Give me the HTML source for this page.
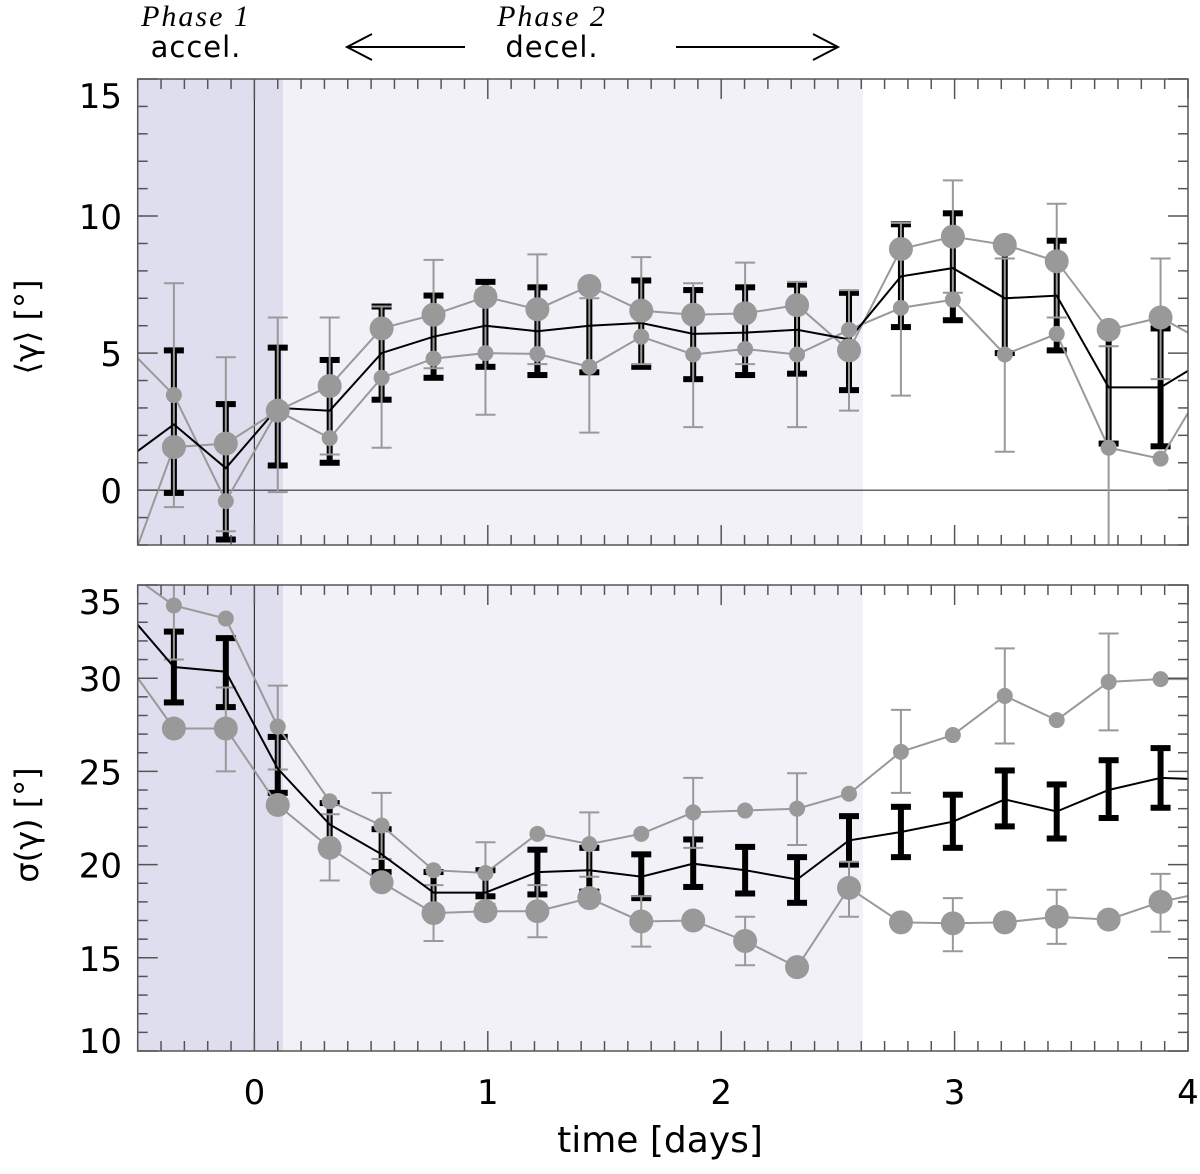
<!DOCTYPE html>
<html><head><meta charset="utf-8"><style>
html,body{margin:0;padding:0;background:#fff;}
svg{display:block;}
text{font-family:"DejaVu Sans","Liberation Sans",sans-serif;}
</style></head><body>
<svg id="chart" width="1200" height="1174" viewBox="0 0 1200 1174" xmlns="http://www.w3.org/2000/svg">
<text x="196" y="26" text-anchor="middle" font-style="italic" font-size="30" letter-spacing="2" style="font-family:'Liberation Serif',serif">Phase 1</text>
<text x="196" y="57" text-anchor="middle" font-size="29" letter-spacing="1">accel.</text>
<text x="552" y="26" text-anchor="middle" font-style="italic" font-size="30" letter-spacing="2" style="font-family:'Liberation Serif',serif">Phase 2</text>
<text x="552" y="57" text-anchor="middle" font-size="29" letter-spacing="1">decel.</text>
<g stroke="#000" stroke-width="2" fill="none"><line x1="347" y1="47" x2="465" y2="47"/><polyline points="372,34 347,47 372,60"/></g>
<g stroke="#000" stroke-width="2" fill="none"><line x1="676" y1="47" x2="838" y2="47"/><polyline points="813,34 838,47 813,60"/></g>
<text transform="translate(38,327) rotate(-90)" text-anchor="middle" font-size="32">⟨γ⟩  [°]</text>
<text transform="translate(38,825) rotate(-90)" text-anchor="middle" font-size="32">σ(γ) [°]</text>
<text x="660" y="1152" text-anchor="middle" font-size="36">time [days]</text>
</svg>
<script>
// ---- data ----
const timesStart = -0.5675;
const timeStep = 0.2225;
// top panel: mean gamma (index -1 .. 20)
const topBlack = [1.0,2.4,0.8,3.0,2.9,5.0,5.6,6.0,5.8,6.0,6.1,5.7,5.75,5.85,5.5,7.8,8.1,7.0,7.1,3.75,3.75,4.9];
const topBlackLo = [null,-0.1,-1.8,0.9,1.0,3.3,4.1,4.5,4.2,4.3,4.5,4.05,4.2,4.25,3.65,5.95,6.2,5.0,5.1,1.7,1.6,null];
const topBlackHi = [null,5.1,3.14,5.2,4.75,6.7,7.1,7.6,7.4,7.3,7.65,7.3,7.4,7.5,7.2,9.7,10.1,8.9,9.1,5.8,5.9,null];
const topSmall = [5.4,3.47,-0.4,2.9,1.9,4.1,4.8,5.0,4.97,4.5,5.6,4.95,5.15,4.95,5.85,6.65,6.95,4.95,5.7,1.55,1.15,4.3];
const topBig = [-3.6,1.57,1.7,2.9,3.8,5.9,6.4,7.05,6.6,7.45,6.55,6.4,6.45,6.75,5.1,8.8,9.25,8.95,8.35,5.85,6.3,5.25];
const topGrayLo = [null,-0.62,-1.5,-0.07,1.3,1.55,4.45,2.75,4.6,2.1,4.6,2.3,4.6,2.3,2.9,3.45,7.2,1.4,6.3,-2.2,4.05,null];
const topGrayHi = [null,7.55,4.85,6.3,6.3,6.7,8.4,7.3,8.6,7.0,8.5,7.55,8.3,7.6,7.3,9.75,11.3,8.45,10.45,5.25,8.45,null];
// bottom panel: sigma gamma
const botBlack = [33.85,30.6,30.35,25.15,22.15,20.55,18.5,18.5,19.6,19.7,19.35,20.05,19.7,19.2,21.3,21.75,22.3,23.5,22.85,24.0,24.65,24.55];
const botBlackLo = [null,28.7,28.45,23.85,21.1,19.6,17.6,18.3,18.4,18.55,18.2,18.8,18.45,17.95,20.0,20.4,20.9,22.05,21.4,22.5,23.05,null];
const botBlackHi = [null,32.5,32.15,26.85,23.3,21.9,19.6,19.7,20.8,20.9,20.55,21.35,20.95,20.4,22.6,23.1,23.75,25.05,24.3,25.6,26.25,null];
const botSmall = [35.9,33.9,33.2,27.4,23.4,22.1,19.7,19.55,21.65,21.1,21.65,22.8,22.9,23.0,23.8,26.05,26.95,29.05,27.75,29.8,29.95,29.95];
const botBig = [31.2,27.3,27.3,23.2,20.9,19.05,17.4,17.5,17.5,18.2,16.95,17.0,15.9,14.5,18.75,16.9,16.85,16.9,17.2,17.05,18.0,18.6];
const botGrayLo = [null,31.0,25.0,25.1,19.15,20.3,15.9,17.9,16.1,19.35,15.6,20.9,14.6,21.05,17.2,23.85,15.35,26.5,15.75,27.2,16.4,null];
const botGrayHi = [null,36.8,29.5,29.6,22.7,23.85,18.9,21.2,18.9,22.8,18.3,24.65,17.2,24.9,20.15,28.3,18.2,31.6,18.65,32.4,19.5,null];
const xTickLabels = ["0","1","2","3","4"];
const topTickLabels = ["0","5","10","15"];
const botTickLabels = ["10","15","20","25","30","35"];

const NS = "http://www.w3.org/2000/svg";
const svg = document.getElementById('chart');
const X0 = 137.7, X1 = 1188, T0 = -0.5, T1 = 4;
function xs(t){ return X0 + (t - T0) / (T1 - T0) * (X1 - X0); }
function mk(tag, attrs, parent){ const e = document.createElementNS(NS, tag); for (const k in attrs) e.setAttribute(k, attrs[k]); (parent||svg).appendChild(e); return e; }
const times = topBlack.map((_, i) => timesStart + i * timeStep);

function panel(cfg){
  const {top, bottom, vmin, vmax, name} = cfg;
  const ys = v => bottom - (v - vmin) / (vmax - vmin) * (bottom - top);
  const g = mk('g', {});
  
  
  const cid = 'clip-' + name;
  const cp = mk('clipPath', {id: cid}, g);
  mk('rect', {x: X0, y: top, width: X1 - X0, height: bottom - top}, cp);
  const p1 = mk('rect', {x: X0, y: top, width: xs(0.123) - X0, height: bottom - top, fill: '#dfdeee'}, g);
  
  
  const p2 = mk('rect', {x: xs(0.123), y: top, width: xs(2.607) - xs(0.123), height: bottom - top, fill: '#f2f1f8'}, g);
  
  
  mk('line', {x1: xs(0), x2: xs(0), y1: top, y2: bottom, stroke: '#333', 'stroke-width': 1.2}, g);
  if (cfg.zero) mk('line', {x1: X0, x2: X1, y1: ys(0), y2: ys(0), stroke: '#333', 'stroke-width': 1.2}, g);
  const d = mk('g', {'clip-path': 'url(#' + cid + ')'}, g);
  times.forEach((t, i) => {
    if (cfg.blo[i] == null) return;
    const x = xs(t), y1 = ys(cfg.bhi[i]), y2 = ys(cfg.blo[i]);
    const eb = mk('g', {fill: '#000'}, d);
    
    
    mk('rect', {x: x - 3, y: y1, width: 6, height: y2 - y1}, eb);
    mk('rect', {x: x - 10, y: y1 - 3, width: 20, height: 6}, eb);
    mk('rect', {x: x - 10, y: y2 - 3, width: 20, height: 6}, eb);
  });
  times.forEach((t, i) => {
    if (cfg.glo[i] == null) return;
    const x = xs(t), y1 = ys(cfg.ghi[i]), y2 = ys(cfg.glo[i]);
    const eb = mk('g', {stroke: '#999', 'stroke-width': 2}, d);
    
    
    mk('line', {x1: x, x2: x, y1: y1, y2: y2}, eb);
    mk('line', {x1: x - 10, x2: x + 10, y1: y1, y2: y1}, eb);
    mk('line', {x1: x - 10, x2: x + 10, y1: y2, y2: y2}, eb);
  });
  const pts = arr => arr.map((v, i) => xs(times[i]).toFixed(1) + ',' + ys(v).toFixed(1)).join(' ');
  const ls = mk('polyline', {points: pts(cfg.small), fill: 'none', stroke: '#999', 'stroke-width': 2}, d);
  
  
  const lb = mk('polyline', {points: pts(cfg.big), fill: 'none', stroke: '#999', 'stroke-width': 2}, d);
  
  
  const lk = mk('polyline', {points: pts(cfg.black), fill: 'none', stroke: '#000', 'stroke-width': 2}, d);
  
  
  times.forEach((t, i) => {
    const c1 = mk('circle', {cx: xs(t), cy: ys(cfg.small[i]), r: 8, fill: '#999'}, d);
    
    
    const c2 = mk('circle', {cx: xs(t), cy: ys(cfg.big[i]), r: 12, fill: '#999'}, d);
    
    
  });
  const ax = mk('g', {stroke: '#555', 'stroke-width': 1.5, fill: 'none'}, g);
  
  
  mk('rect', {x: X0, y: top, width: X1 - X0, height: bottom - top}, ax);
  for (let k = -5; k <= 40; k++) {
    const x = xs(k / 10), len = (k % 10 === 0) ? 20 : 10;
    mk('line', {x1: x, x2: x, y1: bottom, y2: bottom - len}, ax);
    mk('line', {x1: x, x2: x, y1: top, y2: top + len}, ax);
  }
  for (let v = Math.ceil(vmin); v <= vmax; v++) {
    const y = ys(v), len = (v % 5 === 0) ? 20 : 10;
    mk('line', {x1: X0, x2: X0 + len, y1: y, y2: y}, ax);
    mk('line', {x1: X1, x2: X1 - len, y1: y, y2: y}, ax);
  }
  cfg.labels.forEach(l => {
    let cy = ys(+l);
    if (cy < top + 16) cy = top + 16;
    if (cy > bottom - 11) cy = bottom - 11;
    const tx = mk('text', {x: 122, y: cy + 13, 'text-anchor': 'end', 'font-size': 34}, g);
    tx.textContent = l;
    
    
  });
  return ys;
}
panel({name: 'top', top: 79, bottom: 545, vmin: -2, vmax: 15, zero: true,
  black: topBlack, blo: topBlackLo, bhi: topBlackHi, small: topSmall, big: topBig,
  glo: topGrayLo, ghi: topGrayHi, labels: topTickLabels});
panel({name: 'bottom', top: 585, bottom: 1051, vmin: 10, vmax: 35, zero: false,
  black: botBlack, blo: botBlackLo, bhi: botBlackHi, small: botSmall, big: botBig,
  glo: botGrayLo, ghi: botGrayHi, labels: botTickLabels});
xTickLabels.forEach(l => {
  const tx = mk('text', {x: xs(+l), y: 1104, 'text-anchor': 'middle', 'font-size': 34});
  tx.textContent = l;
  
  
});
</script>
</body></html>
